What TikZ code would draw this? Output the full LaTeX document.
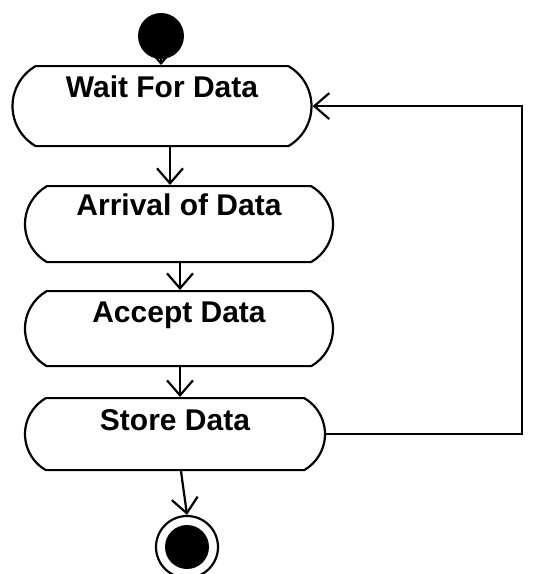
\documentclass[tikz,border=0pt]{standalone}
\usepackage{fontspec}
\setmainfont{Liberation Sans}
\usetikzlibrary{shapes.misc,arrows.meta}
\tikzset{
  activity/.style={draw=black, line width=2.2pt, fill=white,
    rounded rectangle, rounded rectangle arc length=120,
    inner xsep=0pt, inner ysep=0pt, anchor=north,
    font=\bfseries\fontsize{30}{30}\selectfont},
  flow/.style={draw=black, line width=2.2pt,
    -{Straight Barb[length=15pt,width=26pt,line width=2.2pt]}}
}
\begin{document}
\begin{tikzpicture}[x=1pt,y=-1pt]
  \useasboundingbox (0,0) rectangle (533,574);

  % initial state
  \node[circle, fill=black, inner sep=0pt, minimum size=46pt] (init) at (161,36) {};

  % activities
  \node[activity, minimum width=299pt, text height=31pt, text depth=49pt] (wait)    at (162,65)  {Wait For Data};
  \node[activity, minimum width=308pt, text height=29pt, text depth=47pt] (arrival) at (179,185) {Arrival of Data};
  \node[activity, minimum width=308pt, text height=31pt, text depth=44pt] (accept)  at (179,290) {Accept Data};
  \node[activity, minimum width=300pt, text height=32pt, text depth=40pt] (store)   at (175,397) {Store Data};

  % final state
  \node[circle, draw=black, line width=2.2pt, inner sep=0pt, minimum size=62pt] (final) at (187,547) {};
  \node[circle, fill=black, inner sep=0pt, minimum size=44pt] (finaldot) at (final.center) {};

  % control flow
  \draw[flow] (init.south) -- (wait.north -| init.south);
  \draw[flow] (wait.south -| 170,0) -- (arrival.north -| 170,0);
  \draw[flow] (arrival.south -| 180,0) -- (accept.north -| 180,0);
  \draw[flow] (accept.south -| 180,0) -- (store.north -| 180,0);
  \draw[flow] (store.south -| 181,0) -- (final.north);

  % loop back to waiting
  \coordinate (loopx) at (522,0);
  \draw[flow] (store.east) -| (loopx |- wait.east) -- (wait.east);
\end{tikzpicture}
\end{document}
